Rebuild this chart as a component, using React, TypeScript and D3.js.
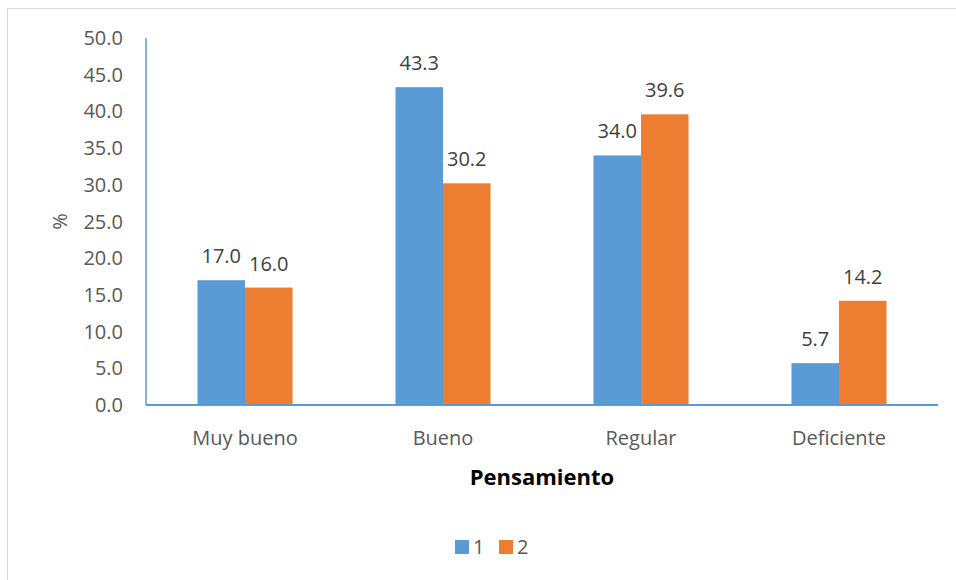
import React from "react";
import * as d3 from "d3";

const categories = ["Muy bueno", "Bueno", "Regular", "Deficiente"];
const seriesNames = ["1", "2"];
const series1 = [17.0, 43.3, 34.0, 5.7];
const series2 = [16.0, 30.2, 39.6, 14.2];
const yTicks = [0, 5, 10, 15, 20, 25, 30, 35, 40, 45, 50];
const colors = ["#5B9BD5", "#ED7D31"];

const W = 956;
const H = 580;
const margin = { left: 146, right: 18, top: 38, bottom: 175 };
const font = "'Open Sans', 'Liberation Sans', sans-serif";
const fs = 20;

export default function App() {
  const x = d3
    .scaleBand<string>()
    .domain(categories)
    .range([margin.left, W - margin.right])
    .paddingInner(0.52)
    .paddingOuter(0.26);
  const y = d3.scaleLinear().domain([0, 50]).range([H - margin.bottom, margin.top]);
  const inner = d3
    .scaleBand<string>()
    .domain(seriesNames)
    .range([0, x.bandwidth()]);
  const values = [series1, series2];

  return (
    <svg
      width={W}
      height={H}
      style={{ position: "absolute", left: 0, top: 0, background: "#fff" }}
      fontFamily={font}
    >
      <rect x={7.5} y={8.5} width={W + 10} height={H + 10} fill="#fff" stroke="#D9D9D9" strokeWidth={1} />
      {yTicks.map((t) => (
        <text
          key={t}
          x={123}
          y={y(t)}
          dy="0.35em"
          textAnchor="end"
          fontSize={fs}
          fill="#595959"
        >
          {t.toFixed(1)}
        </text>
      ))}
      {categories.map((c, i) =>
        seriesNames.map((s, j) => {
          const v = values[j][i];
          const bx = (x(c) ?? 0) + (inner(s) ?? 0);
          return (
            <g key={c + s}>
              <rect
                x={bx}
                y={y(v)}
                width={inner.bandwidth()}
                height={y(0) - y(v)}
                fill={colors[j]}
              />
              <text
                x={bx + inner.bandwidth() / 2}
                y={y(v) - 24}
                dy="0.35em"
                textAnchor="middle"
                fontSize={fs}
                fill="#404040"
              >
                {v.toFixed(1)}
              </text>
            </g>
          );
        })
      )}
      <line x1={margin.left} x2={margin.left} y1={margin.top} y2={y(0)} stroke="#5B9BD5" strokeWidth={1.5} />
      <line x1={margin.left} x2={W - margin.right} y1={y(0)} y2={y(0)} stroke="#5B9BD5" strokeWidth={2} />
      {categories.map((c) => (
        <text
          key={c}
          x={(x(c) ?? 0) + x.bandwidth() / 2}
          y={438}
          dy="0.35em"
          textAnchor="middle"
          fontSize={fs}
          fill="#595959"
        >
          {c}
        </text>
      ))}
      <text x={542} y={477} dy="0.35em" textAnchor="middle" fontSize={22} fontWeight="bold" fill="#000">
        Pensamiento
      </text>
      <text
        transform={`translate(60,${(y(0) + margin.top) / 2}) rotate(-90)`}
        dy="0.35em"
        textAnchor="middle"
        fontSize={fs}
        fill="#595959"
      >
        %
      </text>
      {seriesNames.map((s, j) => (
        <g key={s} transform={`translate(${455 + j * 44},540)`}>
          <rect width={14} height={14} fill={colors[j]} />
          <text x={18} y={7} dy="0.35em" fontSize={fs} fill="#595959">
            {s}
          </text>
        </g>
      ))}
    </svg>
  );
}
